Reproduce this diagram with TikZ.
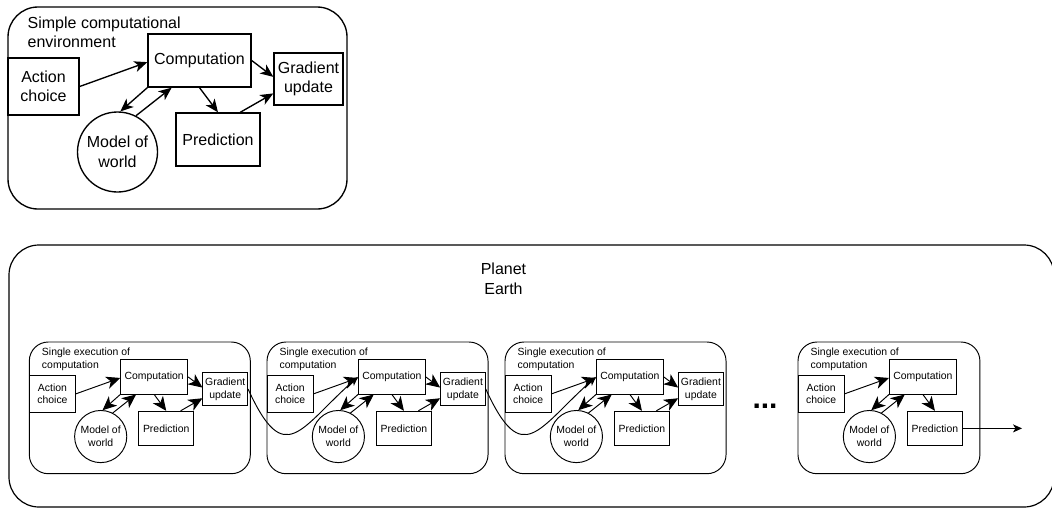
\documentclass[tikz,border=0pt]{standalone}
\usepackage{fontspec}
\setmainfont{Liberation Sans}
\usetikzlibrary{arrows.meta,calc}

\tikzset{
  bx/.style 2 args={draw, rectangle, minimum width=#1pt, minimum height=#2pt, inner sep=0pt, align=center, font=\fontsize{16}{19.5}\selectfont},
  circ/.style={draw, circle, minimum size=#1pt, inner sep=0pt, align=center, font=\fontsize{16}{19.5}\selectfont},
  ttl/.style={anchor=north west, inner sep=0pt, align=left, font=\fontsize{16}{19.5}\selectfont},
  arrS/.style={-{Stealth[length=9pt, width=8pt, inset=2.5pt]}},
}

\newcommand\DrawPanel[7]{%
  \pgfmathsetmacro\PanLW{#4<1 ? 0.95 : 1.35}%
  \pgfmathsetmacro\PanR{#4<1 ? 19 : 30}%
  \pgfmathsetmacro\PanAL{#4<1 ? 14 : 13}%
  \pgfmathsetmacro\PanAW{#4<1 ? 12.5 : 11}%
  \pgfmathsetmacro\PanAI{#4<1 ? 4 : 3.6}%
  \begin{scope}[name prefix=#1-, shift={(#2,#3)}, scale=#4, transform shape, line width=\PanLW pt,
    arr/.style={-{Stealth[length=\PanAL pt, width=\PanAW pt, inset=\PanAI pt]}}]
    \draw[rounded corners=\PanR pt] (0,0) rectangle (#5,202);
    \node[ttl] (title) at (19,9) {#6};
    \node[bx={71}{57}] (act) at (35.5,79.5) {Action\\choice};
    \node[bx={103}{53}] (comp) at (191.5,53.5) {Computation};
    \node[bx={84}{53}] (pred) at (210,132.5) {Prediction};
    \node[circ=80] (model) at (109.5,145) {Model of\\world};
    \draw[arr] (act.east) -- ($(comp.north west)!0.53!(comp.south west)$);
    \draw[arr] (comp.south west) -- (model.86);
    \draw[arr] (model.63) -- ($(comp.south west)!0.233!(comp.south east)$);
    \draw[arr] (comp.south) -- (pred.north);
    \ifnum#7=1
      \node[bx={69}{52}] (grad) at (300.5,72) {Gradient\\update};
      \draw[arr] (comp.east) -- ($(grad.north west)!0.46!(grad.south west)$);
      \draw[arr] ($(pred.north west)!0.76!(pred.north east)$) -- ($(grad.north west)!0.77!(grad.south west)$);
    \fi
  \end{scope}}

\begin{document}
\begin{tikzpicture}[x=1pt, y=-1pt]
  \useasboundingbox (0,0) rectangle (1052,509);
  % top diagram
  \DrawPanel{top}{8}{7}{1}{339}{Simple computational\\environment}{1}
  % Planet Earth frame
  \draw[line width=1.2pt, rounded corners=30pt] (9,245) rectangle (1054,507);
  \node[align=center, inner sep=0pt, font=\fontsize{16}{19.5}\selectfont] (earth) at (503.5,279) {Planet\\Earth};
  % executions
  \DrawPanel{p1}{29.3}{342}{0.652}{339}{Single execution of\\computation}{1}
  \DrawPanel{p2}{267}{342}{0.652}{339}{Single execution of\\computation}{1}
  \DrawPanel{p3}{505}{342}{0.652}{339}{Single execution of\\computation}{1}
  \DrawPanel{p4}{798}{342}{0.652}{279}{Single execution of\\computation}{0}
  % links between executions
  \draw[line width=0.95pt, arrS] (p1-grad.east) .. controls +(37,81) and +(-58,51) .. (p2-comp.west);
  \draw[line width=0.95pt, arrS] (p2-grad.east) .. controls +(37,81) and +(-58,51) .. (p3-comp.west);
  \node[inner sep=0pt, font=\fontsize{30}{30}\selectfont\bfseries] (dots) at (765,406) {...};
  \coordinate (out) at (1022,428.4);
  \draw[line width=0.95pt, arrS] (p4-pred.east) -- (p4-pred.east -| out);
\end{tikzpicture}
\end{document}
